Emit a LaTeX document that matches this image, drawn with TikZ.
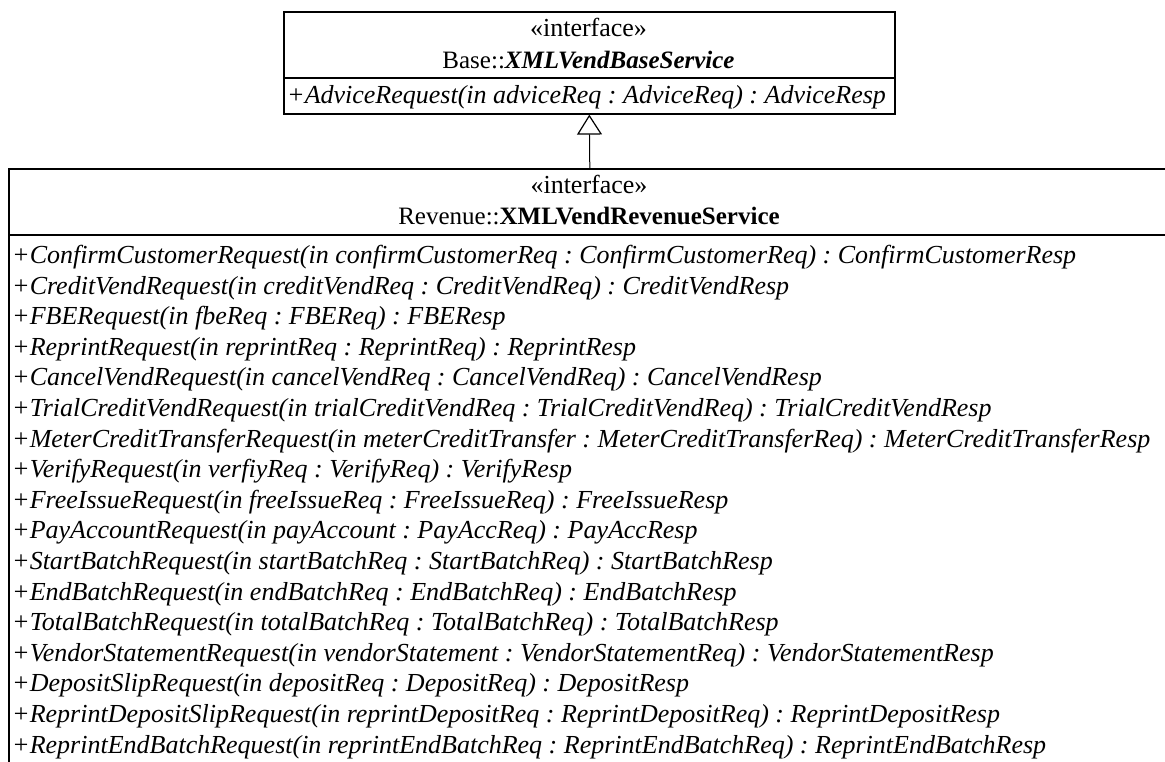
\documentclass[tikz,border=0pt]{standalone}
\usepackage{fontspec}
\setmainfont{Liberation Serif}
\usetikzlibrary{arrows.meta}
\frenchspacing
\begin{document}
\begin{tikzpicture}[x=1pt,y=-1pt,
  classbox/.style={draw, line width=1.6pt, inner sep=0pt, anchor=north west},
  divider/.style={line width=1.6pt},
  txt/.style={inner sep=0pt, font=\fontsize{26}{30}\selectfont},
  title/.style={txt, anchor=base},
  cname/.style={title, font=\fontsize{25}{30}\selectfont},
  op/.style={txt, anchor=base west, font=\fontsize{26}{30}\selectfont\itshape},
  realizes/.style={line width=1pt, -{Triangle[open, width=25pt, length=20pt, line width=1.2pt]}}]
\useasboundingbox (0,0) rectangle (1165,762);

% Base interface
\node[classbox, minimum width=611pt, minimum height=102pt] (base) at (283,11) {};
\draw[divider] (283,78) -- (894,78);
\node[title] (baseStereo) at (588.5,37) {«interface»};
\node[cname] (baseName) at (588.5,68.5) {Base::\textbf{\textit{XMLVendBaseService}}};
\node[op] (baseOp) at (287,103.5) {+AdviceRequest(in adviceReq : AdviceReq) : AdviceResp};

% Revenue interface
\node[classbox, minimum width=1162pt, minimum height=700pt] (rev) at (8,168) {};
\draw[divider] (8,235) -- (1170,235);
\node[title] (revStereo) at (589,194) {«interface»};
\node[cname] (revName) at (589,225) {Revenue::\textbf{XMLVendRevenueService}};

\node[op] (op1)  at (12,263.5) {+ConfirmCustomerRequest(in confirmCustomerReq : ConfirmCustomerReq) : ConfirmCustomerResp};
\node[op] (op2)  at (12,294.1) {+CreditVendRequest(in creditVendReq : CreditVendReq) : CreditVendResp};
\node[op] (op3)  at (12,324.7) {+FBERequest(in fbeReq : FBEReq) : FBEResp};
\node[op] (op4)  at (12,355.3) {+ReprintRequest(in reprintReq : ReprintReq) : ReprintResp};
\node[op] (op5)  at (12,385.9) {+CancelVendRequest(in cancelVendReq : CancelVendReq) : CancelVendResp};
\node[op] (op6)  at (12,416.5) {+TrialCreditVendRequest(in trialCreditVendReq : TrialCreditVendReq) : TrialCreditVendResp};
\node[op] (op7)  at (12,447.1) {+MeterCreditTransferRequest(in meterCreditTransfer : MeterCreditTransferReq) : MeterCreditTransferResp};
\node[op] (op8)  at (12,477.7) {+VerifyRequest(in verfiyReq : VerifyReq) : VerifyResp};
\node[op] (op9)  at (12,508.3) {+FreeIssueRequest(in freeIssueReq : FreeIssueReq) : FreeIssueResp};
\node[op] (op10) at (12,538.9) {+PayAccountRequest(in payAccount : PayAccReq) : PayAccResp};
\node[op] (op11) at (12,569.5) {+StartBatchRequest(in startBatchReq : StartBatchReq) : StartBatchResp};
\node[op] (op12) at (12,600.1) {+EndBatchRequest(in endBatchReq : EndBatchReq) : EndBatchResp};
\node[op] (op13) at (12,630.7) {+TotalBatchRequest(in totalBatchReq : TotalBatchReq) : TotalBatchResp};
\node[op] (op14) at (12,661.3) {+VendorStatementRequest(in vendorStatement : VendorStatementReq) : VendorStatementResp};
\node[op] (op15) at (12,691.9) {+DepositSlipRequest(in depositReq : DepositReq) : DepositResp};
\node[op] (op16) at (12,722.5) {+ReprintDepositSlipRequest(in reprintDepositReq : ReprintDepositReq) : ReprintDepositResp};
\node[op] (op17) at (12,753.1) {+ReprintEndBatchRequest(in reprintEndBatchReq : ReprintEndBatchReq) : ReprintEndBatchResp};

% Generalization
\draw[realizes] (rev.north) -- (base.south);
\end{tikzpicture}
\end{document}
